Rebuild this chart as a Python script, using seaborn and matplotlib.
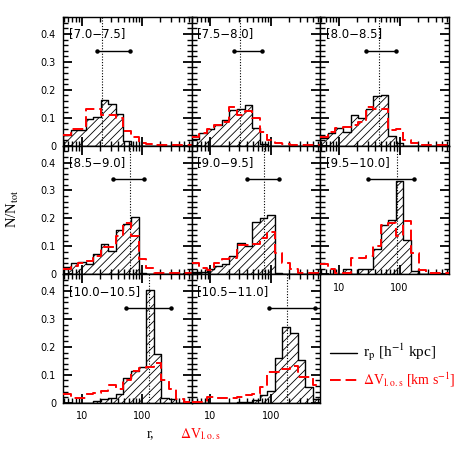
import numpy as np
import matplotlib
matplotlib.use("Agg")
import matplotlib.pyplot as plt
import seaborn as sns
from matplotlib.ticker import LogLocator, NullFormatter, FixedLocator, FixedFormatter, MultipleLocator
from matplotlib.lines import Line2D

sns.set_theme(style="ticks", rc={"axes.edgecolor": "black", "text.color": "black",
                                 "xtick.color": "black", "ytick.color": "black",
                                 "axes.linewidth": 1.0, "hatch.linewidth": 0.6,
                                 "mathtext.fontset": "stix", "axes.axisbelow": False})
plt.rcParams['font.family'] = ['DejaVu Sans']

# ---------------- data ----------------
mass_bins = ["[7.0\u22127.5]", "[7.5\u22128.0]", "[8.0\u22128.5]", "[8.5\u22129.0]",
             "[9.0\u22129.5]", "[9.5\u221210.0]", "[10.0\u221210.5]", "[10.5\u221211.0]"]

# log10 bin edges shared by both histograms
log_edges = (0.69 + 0.125 * np.arange(18)).tolist()

rp_70_75 = [0.038, 0.056, 0.056, 0.094, 0.104, 0.163, 0.148, 0.115, 0.018, 0, 0, 0, 0, 0, 0, 0, 0]
rp_75_80 = [0.023, 0.044, 0.058, 0.074, 0.092, 0.127, 0.130, 0.145, 0.064, 0.006, 0, 0, 0, 0, 0, 0, 0]
rp_80_85 = [0.026, 0.045, 0.065, 0.050, 0.110, 0.098, 0.133, 0.177, 0.183, 0.035, 0.008, 0, 0, 0, 0, 0, 0]
rp_85_90 = [0.026, 0.042, 0.045, 0.038, 0.074, 0.107, 0.083, 0.157, 0.180, 0.206, 0.004, 0, 0, 0, 0, 0, 0]
rp_90_95 = [0.008, 0.008, 0.018, 0.030, 0.038, 0.065, 0.113, 0.100, 0.187, 0.200, 0.214, 0.006, 0, 0, 0, 0, 0]
rp_95_100 = [0, 0, 0, 0.020, 0, 0.020, 0.020, 0.089, 0.176, 0.196, 0.333, 0.121, 0.012, 0, 0, 0, 0]
rp_100_105 = [0, 0, 0, 0, 0.006, 0.012, 0.018, 0.032, 0.087, 0.115, 0.127, 0.405, 0.175, 0.018, 0.014, 0, 0]
rp_105_110 = [0, 0, 0, 0, 0, 0, 0.003, 0.004, 0.010, 0.029, 0.044, 0.160, 0.273, 0.250, 0.154, 0.056, 0.014]

dv_70_75 = [0.040, 0.060, 0.060, 0.130, 0.130, 0.110, 0.110, 0.098, 0.054, 0.032, 0.008, 0.006, 0.003, 0.003, 0.003, 0.003, 0.003]
dv_75_80 = [0.030, 0.045, 0.060, 0.075, 0.085, 0.140, 0.110, 0.125, 0.100, 0.050, 0.020, 0.008, 0.005, 0.003, 0.003, 0.003, 0.003]
dv_80_85 = [0.032, 0.050, 0.065, 0.068, 0.074, 0.085, 0.137, 0.130, 0.130, 0.056, 0.058, 0.020, 0.008, 0.004, 0.003, 0.003, 0.003]
dv_85_90 = [0.018, 0.030, 0.042, 0.048, 0.065, 0.098, 0.098, 0.137, 0.185, 0.137, 0.054, 0.024, 0.005, 0.003, 0.003, 0.003, 0.003]
dv_90_95 = [0.042, 0.024, 0.015, 0.042, 0.054, 0.060, 0.104, 0.104, 0.107, 0.130, 0.150, 0.077, 0.040, 0.018, 0.006, 0.003, 0.003]
dv_95_100 = [0.038, 0.018, 0.006, 0.006, 0.060, 0.060, 0.065, 0.100, 0.178, 0.185, 0.137, 0.190, 0.076, 0.014, 0.003, 0.003, 0.003]
dv_100_105 = [0.033, 0.018, 0.018, 0.032, 0.035, 0.042, 0.065, 0.050, 0.080, 0.113, 0.125, 0.127, 0.143, 0.083, 0.048, 0.012, 0.003]
dv_105_110 = [0.003, 0.003, 0.020, 0.017, 0.017, 0.018, 0.020, 0.028, 0.030, 0.056, 0.110, 0.110, 0.120, 0.130, 0.092, 0.092, 0.062]

rp_hists = [rp_70_75, rp_75_80, rp_80_85, rp_85_90, rp_90_95, rp_95_100, rp_100_105, rp_105_110]
dv_hists = [dv_70_75, dv_75_80, dv_80_85, dv_85_90, dv_90_95, dv_95_100, dv_100_105, dv_105_110]

medians = [21.3, 31, 46, 62.8, 77, 90, 129, 182]
err_lo = [18.1, 24.5, 27.6, 33.3, 39.8, 29.8, 53.3, 93]
err_hi = [62.8, 71, 86.5, 107, 138, 174, 299, 536]
err_y = 0.34

# ---------------- layout ----------------
S = 458.0
fig = plt.figure(figsize=(4.58, 4.58), dpi=100)
lefts = [63 / S, 191.7 / S, 320.3 / S]
bottoms = [(S - 145.7) / S, (S - 274.3) / S, (S - 402.8) / S]
W = 128.5 / S
slots = [(0, 0), (0, 1), (0, 2), (1, 0), (1, 1), (1, 2), (2, 0), (2, 1)]

edges_arr = np.array(log_edges)
centers = 10 ** (edges_arr[:-1] + 0.0625)
xlim = (10 ** edges_arr[0], 10 ** edges_arr[-1])

for i, (r, c) in enumerate(slots):
    ax = fig.add_axes([lefts[c], bottoms[r], W, W])
    sns.histplot(x=centers, weights=rp_hists[i], bins=log_edges, log_scale=True,
                 element="step", fill=True, color="black", facecolor="none", edgecolor="black",
                 hatch="////", linewidth=1.0, ax=ax, zorder=2)
    sns.histplot(x=centers, weights=dv_hists[i], bins=log_edges, log_scale=True,
                 element="step", fill=False, color="red", linestyle=(0, (5.5, 2.5)),
                 linewidth=1.4, ax=ax, zorder=3)
    ax.axvline(medians[i], color="black", linestyle=(0, (1, 1.5)), linewidth=0.8, zorder=1)
    ax.plot([err_lo[i], err_hi[i]], [err_y, err_y], color="black", linewidth=1.0,
            marker="o", markersize=2.2, zorder=4)
    ax.text(0.045, 0.40, mass_bins[i], transform=ax.get_yaxis_transform(),
            fontsize=8.5, va="center", ha="left")
    ax.set_xscale("log")
    ax.set_xlim(*xlim)
    ax.set_ylim(0, 0.46)
    ax.set_xlabel("")
    ax.set_ylabel("")
    ax.xaxis.set_major_locator(FixedLocator([10, 100]))
    ax.xaxis.set_minor_locator(LogLocator(base=10, subs=np.arange(2, 10), numticks=20))
    ax.xaxis.set_minor_formatter(NullFormatter())
    ax.yaxis.set_major_locator(FixedLocator([0, 0.1, 0.2, 0.3, 0.4]))
    ax.yaxis.set_minor_locator(MultipleLocator(0.02))
    if c == 0:
        ax.yaxis.set_major_formatter(FixedFormatter(["0", "0.1", "0.2", "0.3", "0.4"]))
    else:
        ax.yaxis.set_major_formatter(NullFormatter())
    if r == 2 or (r == 1 and c == 2):
        ax.xaxis.set_major_formatter(FixedFormatter(["10", "100"]))
    else:
        ax.xaxis.set_major_formatter(NullFormatter())
    ax.tick_params(which="both", direction="in", top=True, right=True, bottom=True, left=True,
                   labelsize=7, colors="black")
    ax.tick_params(which="major", length=6.5, width=1.3)
    ax.tick_params(which="minor", length=3.5, width=1.0)
    ax.tick_params(axis="y", pad=5)
    ax.tick_params(axis="x", pad=6)
    for sp in ax.spines.values():
        sp.set_visible(True)
        sp.set_linewidth(1.0)

serif = ["Liberation Serif", "DejaVu Serif"]
fig.text(13 / S, (S - 209) / S, r"N/N$_{\rm tot}$", rotation=90, ha="center", va="center",
         fontsize=10.5, family=serif)
fig.text(147 / S, (S - 434) / S, "r,", ha="left", va="center", fontsize=10, family=serif)
fig.text(180 / S, (S - 434) / S, r"$\Delta$V$_{\rm l.o.s}$", ha="left", va="center",
         fontsize=10, family=serif, color="red")

# legend
fig.add_artist(Line2D([330 / S, 357 / S], [(S - 352.7) / S] * 2, color="black", linewidth=1.0))
fig.add_artist(Line2D([330 / S, 357 / S], [(S - 380) / S] * 2, color="red", linewidth=1.4,
                      linestyle=(0, (5.5, 2.5))))
fig.text(363 / S, (S - 352.7) / S, r"r$_{\rm p}$ [h$^{-1}$ kpc]", ha="left", va="center",
         fontsize=11, family=serif)
fig.text(363 / S, (S - 380) / S, r"$\Delta$V$_{\rm l.o.s}$ [km s$^{-1}$]", ha="left", va="center",
         fontsize=10, family=serif, color="red")

fig.savefig("out.png", dpi=100)
